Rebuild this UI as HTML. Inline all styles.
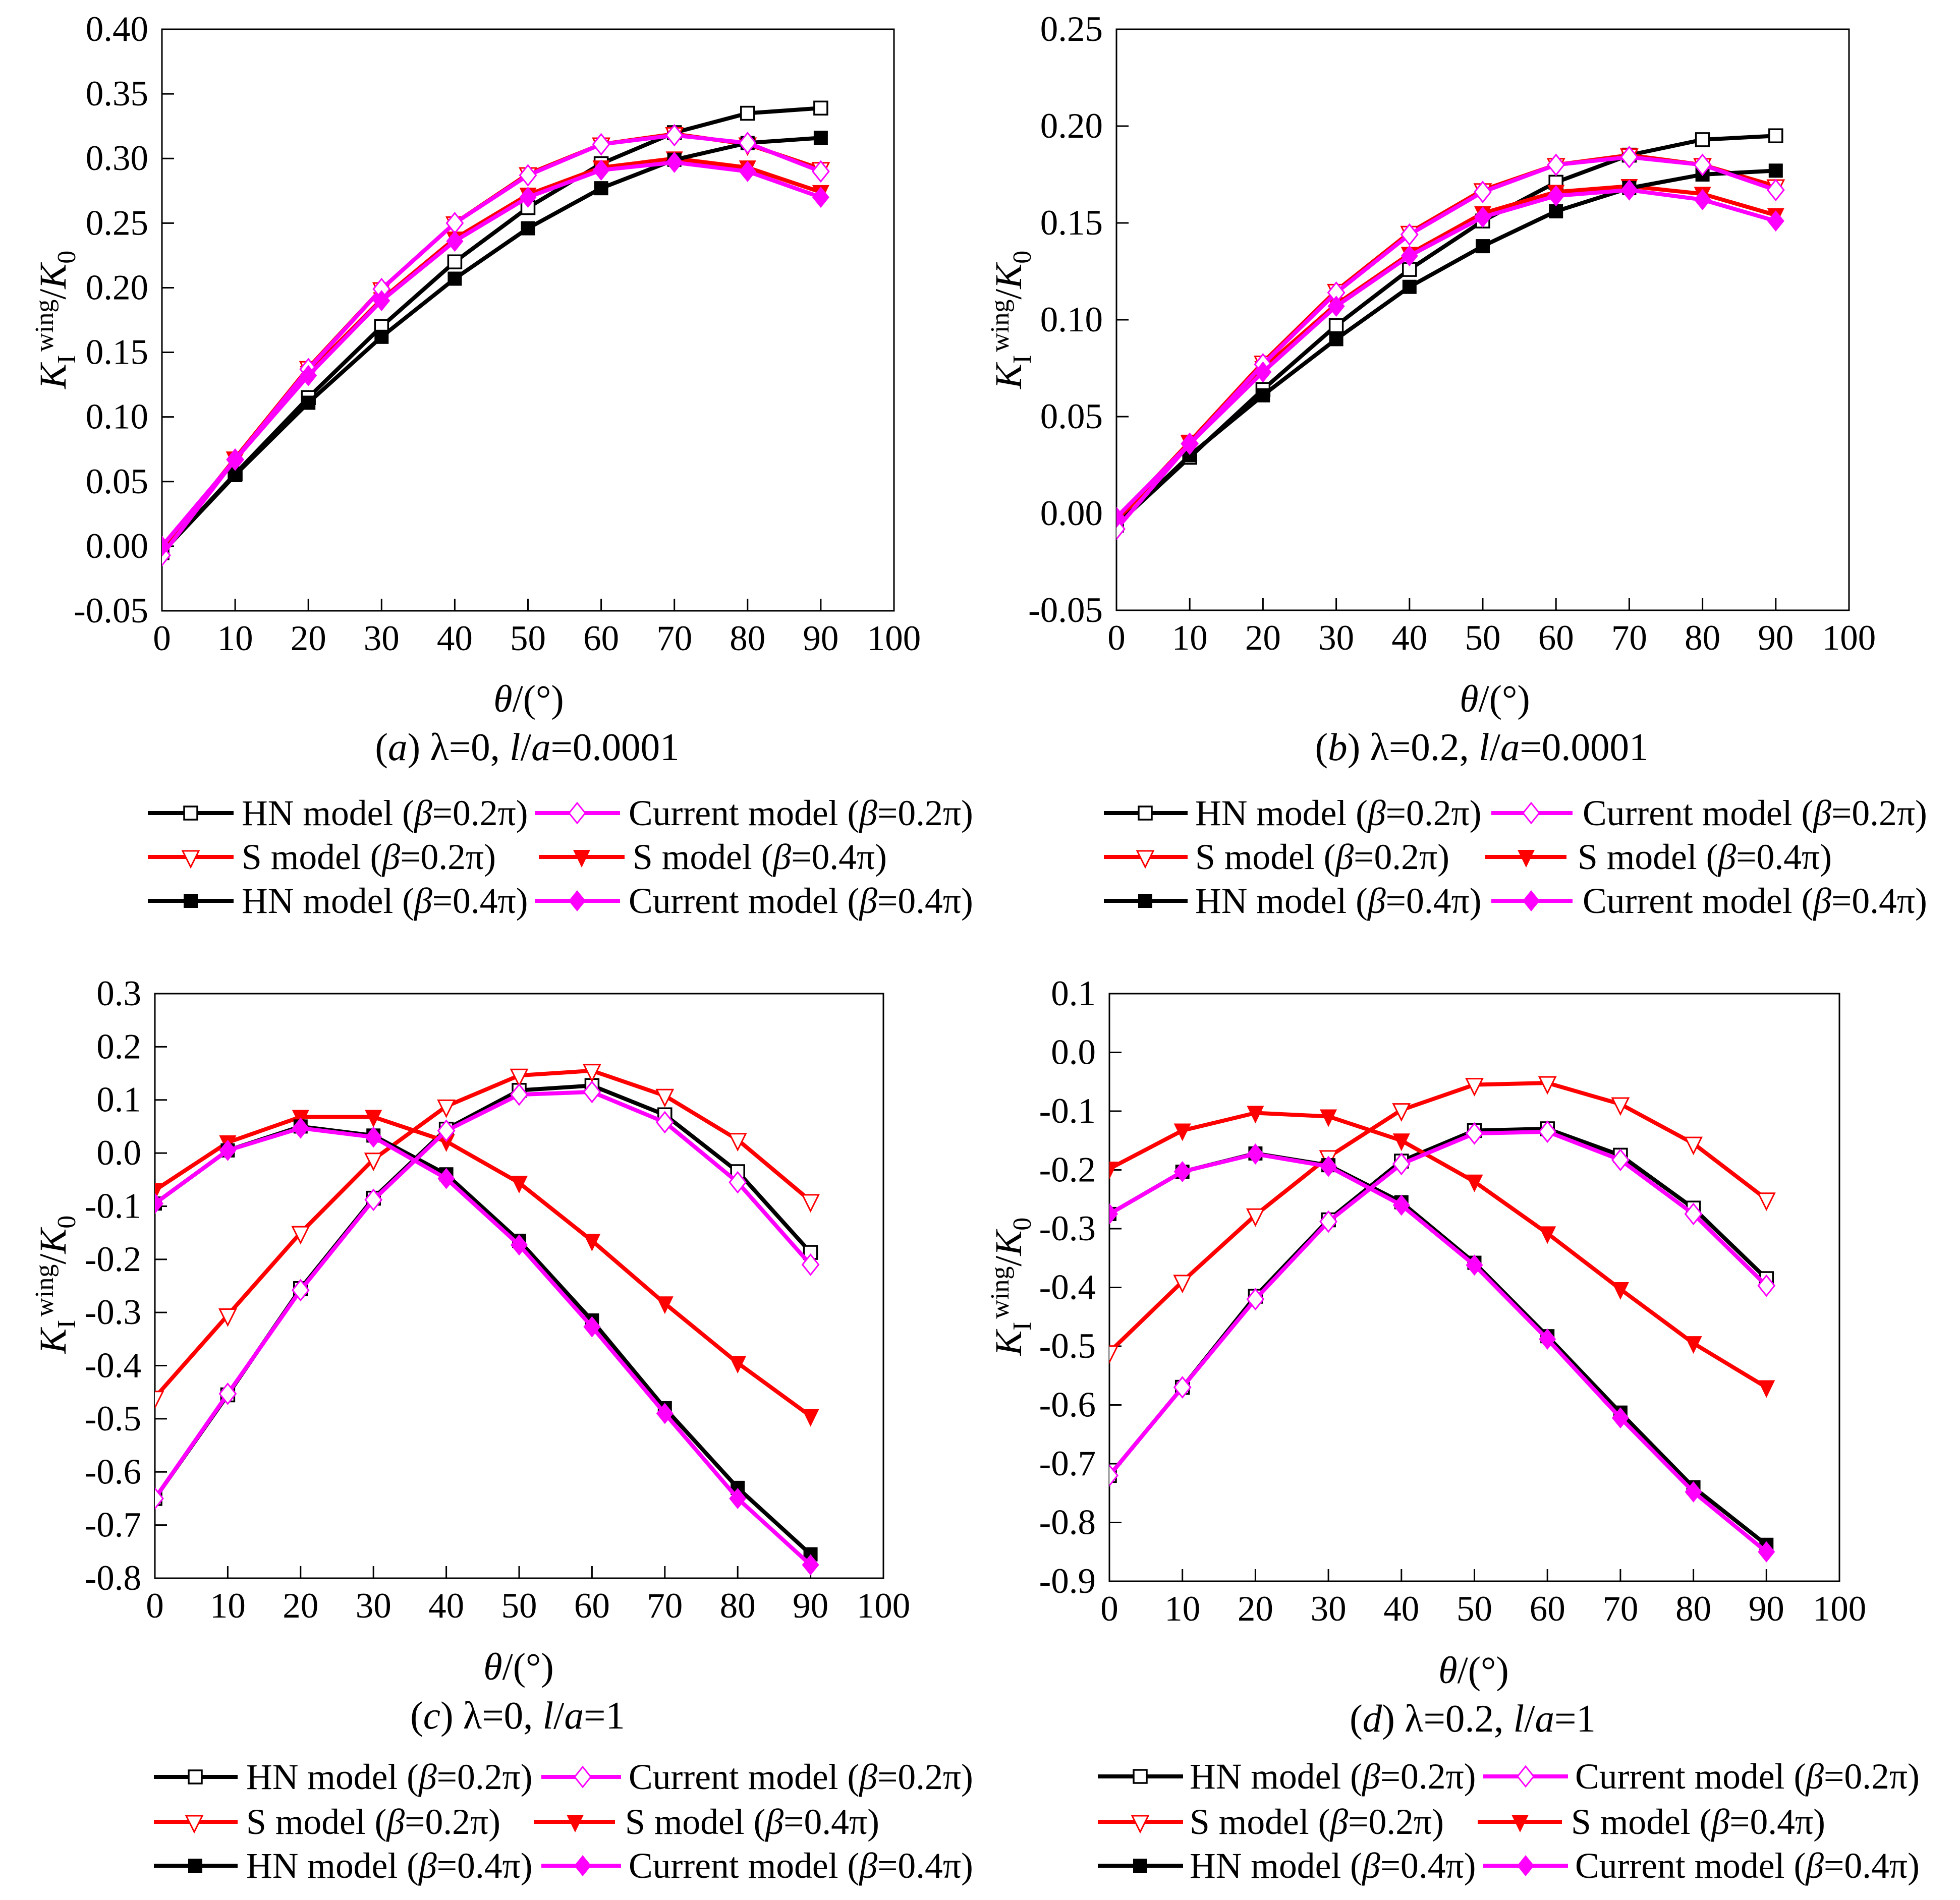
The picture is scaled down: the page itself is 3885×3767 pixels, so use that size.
<!DOCTYPE html>
<html lang="en">
<head>
<meta charset="utf-8">
<title>Wing crack stress intensity factor charts</title>
<style>
html,body{margin:0;padding:0;background:#fff;}
body{width:3885px;height:3767px;overflow:hidden;}
svg{display:block;}
text{font-family:"Liberation Serif","DejaVu Serif",serif;font-size:71px;fill:#000;}
.i{font-style:italic;}
.sub{font-size:52px;}
.yt{font-size:75px;}
.leg{font-size:71.6px;}
.cap{font-size:77px;}
.xt{font-size:76px;}
</style>
</head>
<body>
<svg id="figure" xmlns="http://www.w3.org/2000/svg" width="3885" height="3767" viewBox="0 0 3885 3767">
<defs>
  <g id="m-square-open"><rect x="-13" y="-13" width="26" height="26" fill="#fff" stroke="#000" stroke-width="3.5"/></g>
  <g id="m-square-filled"><rect x="-14" y="-14" width="28" height="28" fill="#000"/></g>
  <g id="m-tri-open"><path d="M-16,-12 L16,-12 L0,20 Z" fill="#fff" stroke="#f00" stroke-width="3"/></g>
  <g id="m-tri-filled"><path d="M-17,-14 L17,-14 L0,21 Z" fill="#f00"/></g>
  <g id="m-dia-open"><path d="M0,-20 L16,0 L0,20 L-16,0 Z" fill="#fff" stroke="#f0f" stroke-width="3"/></g>
  <g id="m-dia-filled"><path d="M0,-21 L17,0 L0,21 L-17,0 Z" fill="#f0f"/></g>
  <clipPath id="clip-a"><rect x="321" y="58" width="1451" height="1153"/></clipPath>
  <clipPath id="clip-b"><rect x="2213" y="58" width="1452" height="1152"/></clipPath>
  <clipPath id="clip-c"><rect x="307" y="1970" width="1444" height="1159"/></clipPath>
  <clipPath id="clip-d"><rect x="2199" y="1970" width="1447" height="1165"/></clipPath>
</defs>

<!-- Panel a -->
<g id="panel-a">
  <text class="yt" transform="translate(130,771) rotate(-90)"><tspan class="i">K</tspan><tspan class="sub" dy="19">I</tspan><tspan class="sub" dy="-44" dx="6">wing</tspan><tspan dy="25">/</tspan><tspan class="i">K</tspan><tspan class="sub" dy="19">0</tspan></text>
  <text class="xt" x="1048" y="1411" text-anchor="middle"><tspan class="i">θ</tspan>/(°)</text>
  <text class="cap" x="1045" y="1507" text-anchor="middle">(<tspan class="i">a</tspan>) λ=0, <tspan class="i">l</tspan>/<tspan class="i">a</tspan>=0.0001</text>
  <g>
    <g><line x1="293" x2="463" y1="1612" y2="1612" stroke="#000" stroke-width="8"/><use href="#m-square-open" x="378" y="1612"/><text class="leg" x="479" y="1636">HN model (<tspan class="i">β</tspan>=0.2π)</text></g>
    <g><line x1="1060" x2="1229" y1="1612" y2="1612" stroke="#f0f" stroke-width="8"/><use href="#m-dia-open" x="1144" y="1612"/><text class="leg" x="1246" y="1636">Current model (<tspan class="i">β</tspan>=0.2π)</text></g>
    <g><line x1="293" x2="463" y1="1699" y2="1699" stroke="#f00" stroke-width="8"/><use href="#m-tri-open" x="378" y="1699"/><text class="leg" x="479" y="1723">S model (<tspan class="i">β</tspan>=0.2π)</text></g>
    <g><line x1="1068" x2="1238" y1="1699" y2="1699" stroke="#f00" stroke-width="8"/><use href="#m-tri-filled" x="1153" y="1699"/><text class="leg" x="1254" y="1723">S model (<tspan class="i">β</tspan>=0.4π)</text></g>
    <g><line x1="293" x2="463" y1="1786" y2="1786" stroke="#000" stroke-width="8"/><use href="#m-square-filled" x="378" y="1786"/><text class="leg" x="479" y="1810">HN model (<tspan class="i">β</tspan>=0.4π)</text></g>
    <g><line x1="1060" x2="1229" y1="1786" y2="1786" stroke="#f0f" stroke-width="8"/><use href="#m-dia-filled" x="1144" y="1786"/><text class="leg" x="1246" y="1810">Current model (<tspan class="i">β</tspan>=0.4π)</text></g>
  </g>
</g>

<!-- Panel b -->
<g id="panel-b">
  <text class="yt" transform="translate(2024,771) rotate(-90)"><tspan class="i">K</tspan><tspan class="sub" dy="19">I</tspan><tspan class="sub" dy="-44" dx="6">wing</tspan><tspan dy="25">/</tspan><tspan class="i">K</tspan><tspan class="sub" dy="19">0</tspan></text>
  <text class="xt" x="2963" y="1411" text-anchor="middle"><tspan class="i">θ</tspan>/(°)</text>
  <text class="cap" x="2937" y="1507" text-anchor="middle">(<tspan class="i">b</tspan>) λ=0.2, <tspan class="i">l</tspan>/<tspan class="i">a</tspan>=0.0001</text>
  <g>
    <g><line x1="2188" x2="2354" y1="1612" y2="1612" stroke="#000" stroke-width="8"/><use href="#m-square-open" x="2270" y="1612"/><text class="leg" x="2369" y="1636">HN model (<tspan class="i">β</tspan>=0.2π)</text></g>
    <g><line x1="2956" x2="3117" y1="1612" y2="1612" stroke="#f0f" stroke-width="8"/><use href="#m-dia-open" x="3035" y="1612"/><text class="leg" x="3137" y="1636">Current model (<tspan class="i">β</tspan>=0.2π)</text></g>
    <g><line x1="2188" x2="2354" y1="1699" y2="1699" stroke="#f00" stroke-width="8"/><use href="#m-tri-open" x="2270" y="1699"/><text class="leg" x="2369" y="1723">S model (<tspan class="i">β</tspan>=0.2π)</text></g>
    <g><line x1="2944" x2="3105" y1="1699" y2="1699" stroke="#f00" stroke-width="8"/><use href="#m-tri-filled" x="3025" y="1699"/><text class="leg" x="3127" y="1723">S model (<tspan class="i">β</tspan>=0.4π)</text></g>
    <g><line x1="2188" x2="2354" y1="1786" y2="1786" stroke="#000" stroke-width="8"/><use href="#m-square-filled" x="2270" y="1786"/><text class="leg" x="2369" y="1810">HN model (<tspan class="i">β</tspan>=0.4π)</text></g>
    <g><line x1="2956" x2="3117" y1="1786" y2="1786" stroke="#f0f" stroke-width="8"/><use href="#m-dia-filled" x="3035" y="1786"/><text class="leg" x="3137" y="1810">Current model (<tspan class="i">β</tspan>=0.4π)</text></g>
  </g>
</g>

<!-- Panel c -->
<g id="panel-c">
  <text class="yt" transform="translate(130,2684) rotate(-90)"><tspan class="i">K</tspan><tspan class="sub" dy="19">I</tspan><tspan class="sub" dy="-44" dx="6">wing</tspan><tspan dy="25">/</tspan><tspan class="i">K</tspan><tspan class="sub" dy="19">0</tspan></text>
  <text class="xt" x="1028" y="3330" text-anchor="middle"><tspan class="i">θ</tspan>/(°)</text>
  <text class="cap" x="1026" y="3427" text-anchor="middle">(<tspan class="i">c</tspan>) λ=0, <tspan class="i">l</tspan>/<tspan class="i">a</tspan>=1</text>
  <g>
    <g><line x1="305" x2="471" y1="3523" y2="3523" stroke="#000" stroke-width="8"/><use href="#m-square-open" x="387" y="3523"/><text class="leg" x="488" y="3547">HN model (<tspan class="i">β</tspan>=0.2π)</text></g>
    <g><line x1="1073" x2="1231" y1="3523" y2="3523" stroke="#f0f" stroke-width="8"/><use href="#m-dia-open" x="1155" y="3523"/><text class="leg" x="1246" y="3547">Current model (<tspan class="i">β</tspan>=0.2π)</text></g>
    <g><line x1="305" x2="471" y1="3612" y2="3612" stroke="#f00" stroke-width="8"/><use href="#m-tri-open" x="385" y="3612"/><text class="leg" x="488" y="3636">S model (<tspan class="i">β</tspan>=0.2π)</text></g>
    <g><line x1="1058" x2="1219" y1="3612" y2="3612" stroke="#f00" stroke-width="8"/><use href="#m-tri-filled" x="1140" y="3612"/><text class="leg" x="1239" y="3636">S model (<tspan class="i">β</tspan>=0.4π)</text></g>
    <g><line x1="305" x2="471" y1="3699" y2="3699" stroke="#000" stroke-width="8"/><use href="#m-square-filled" x="387" y="3699"/><text class="leg" x="488" y="3723">HN model (<tspan class="i">β</tspan>=0.4π)</text></g>
    <g><line x1="1073" x2="1231" y1="3699" y2="3699" stroke="#f0f" stroke-width="8"/><use href="#m-dia-filled" x="1155" y="3699"/><text class="leg" x="1246" y="3723">Current model (<tspan class="i">β</tspan>=0.4π)</text></g>
  </g>
</g>

<!-- Panel d -->
<g id="panel-d">
  <text class="yt" transform="translate(2024,2688) rotate(-90)"><tspan class="i">K</tspan><tspan class="sub" dy="19">I</tspan><tspan class="sub" dy="-44" dx="6">wing</tspan><tspan dy="25">/</tspan><tspan class="i">K</tspan><tspan class="sub" dy="19">0</tspan></text>
  <text class="xt" x="2921" y="3337" text-anchor="middle"><tspan class="i">θ</tspan>/(°)</text>
  <text class="cap" x="2919" y="3433" text-anchor="middle">(<tspan class="i">d</tspan>) λ=0.2, <tspan class="i">l</tspan>/<tspan class="i">a</tspan>=1</text>
  <g>
    <g><line x1="2176" x2="2345" y1="3522" y2="3522" stroke="#000" stroke-width="8"/><use href="#m-square-open" x="2260" y="3522"/><text class="leg" x="2358" y="3546">HN model (<tspan class="i">β</tspan>=0.2π)</text></g>
    <g><line x1="2940" x2="3108" y1="3522" y2="3522" stroke="#f0f" stroke-width="8"/><use href="#m-dia-open" x="3024" y="3522"/><text class="leg" x="3122" y="3546">Current model (<tspan class="i">β</tspan>=0.2π)</text></g>
    <g><line x1="2176" x2="2345" y1="3612" y2="3612" stroke="#f00" stroke-width="8"/><use href="#m-tri-open" x="2260" y="3612"/><text class="leg" x="2358" y="3636">S model (<tspan class="i">β</tspan>=0.2π)</text></g>
    <g><line x1="2929" x2="3096" y1="3612" y2="3612" stroke="#f00" stroke-width="8"/><use href="#m-tri-filled" x="3013" y="3612"/><text class="leg" x="3114" y="3636">S model (<tspan class="i">β</tspan>=0.4π)</text></g>
    <g><line x1="2176" x2="2345" y1="3699" y2="3699" stroke="#000" stroke-width="8"/><use href="#m-square-filled" x="2260" y="3699"/><text class="leg" x="2358" y="3723">HN model (<tspan class="i">β</tspan>=0.4π)</text></g>
    <g><line x1="2940" x2="3108" y1="3699" y2="3699" stroke="#f0f" stroke-width="8"/><use href="#m-dia-filled" x="3024" y="3699"/><text class="leg" x="3122" y="3723">Current model (<tspan class="i">β</tspan>=0.4π)</text></g>
  </g>
</g>
</svg>

<script>
// Shared x categories and tick labels
const thetaValues = [0, 10, 20, 30, 40, 50, 60, 70, 80, 90];
const xTickValues = [0, 10, 20, 30, 40, 50, 60, 70, 80, 90, 100];
const xTickLabels = ["0", "10", "20", "30", "40", "50", "60", "70", "80", "90", "100"];

// Panel a: lambda=0, l/a=0.0001
const aTickValues = [-0.05, 0, 0.05, 0.10, 0.15, 0.20, 0.25, 0.30, 0.35, 0.40];
const aTickLabels = ["-0.05", "0.00", "0.05", "0.10", "0.15", "0.20", "0.25", "0.30", "0.35", "0.40"];
const aHN02 = [-0.005, 0.056, 0.115, 0.170, 0.220, 0.262, 0.296, 0.320, 0.335, 0.339];
const aS02 = [-0.003, 0.068, 0.138, 0.199, 0.250, 0.288, 0.311, 0.319, 0.311, 0.292];
const aS04 = [-0.002, 0.067, 0.134, 0.191, 0.238, 0.272, 0.293, 0.300, 0.293, 0.274];
const aHN04 = [-0.005, 0.055, 0.111, 0.162, 0.207, 0.246, 0.277, 0.299, 0.312, 0.316];
const aC02 = [-0.007, 0.067, 0.137, 0.199, 0.250, 0.287, 0.311, 0.318, 0.312, 0.290];
const aC04 = [0.000, 0.067, 0.132, 0.190, 0.236, 0.270, 0.291, 0.297, 0.290, 0.270];

// Panel b: lambda=0.2, l/a=0.0001
const bTickValues = [-0.05, 0, 0.05, 0.10, 0.15, 0.20, 0.25];
const bTickLabels = ["-0.05", "0.00", "0.05", "0.10", "0.15", "0.20", "0.25"];
const bHN02 = [-0.006, 0.029, 0.064, 0.097, 0.126, 0.151, 0.171, 0.185, 0.193, 0.195];
const bS02 = [-0.004, 0.037, 0.078, 0.115, 0.145, 0.167, 0.180, 0.185, 0.180, 0.169];
const bS04 = [-0.003, 0.037, 0.075, 0.108, 0.134, 0.155, 0.166, 0.169, 0.165, 0.154];
const bHN04 = [-0.006, 0.030, 0.061, 0.090, 0.117, 0.138, 0.156, 0.168, 0.175, 0.177];
const bC02 = [-0.008, 0.036, 0.077, 0.114, 0.144, 0.166, 0.180, 0.184, 0.180, 0.167];
const bC04 = [-0.002, 0.036, 0.073, 0.107, 0.133, 0.153, 0.164, 0.167, 0.162, 0.151];

// Panel c: lambda=0, l/a=1
const cTickValues = [-0.8, -0.7, -0.6, -0.5, -0.4, -0.3, -0.2, -0.1, 0, 0.1, 0.2, 0.3];
const cTickLabels = ["-0.8", "-0.7", "-0.6", "-0.5", "-0.4", "-0.3", "-0.2", "-0.1", "0.0", "0.1", "0.2", "0.3"];
const cHN02 = [-0.650, -0.455, -0.255, -0.085, 0.045, 0.118, 0.127, 0.072, -0.035, -0.187];
const cS02 = [-0.460, -0.305, -0.150, -0.012, 0.088, 0.146, 0.155, 0.108, 0.025, -0.090];
const cS04 = [-0.070, 0.020, 0.068, 0.068, 0.022, -0.056, -0.165, -0.283, -0.395, -0.495];
const cHN04 = [-0.095, 0.005, 0.050, 0.033, -0.040, -0.165, -0.315, -0.480, -0.630, -0.755];
const cC02 = [-0.650, -0.453, -0.258, -0.088, 0.042, 0.110, 0.115, 0.058, -0.055, -0.210];
const cC04 = [-0.095, 0.005, 0.047, 0.030, -0.048, -0.173, -0.327, -0.490, -0.650, -0.775];

// Panel d: lambda=0.2, l/a=1
const dTickValues = [-0.9, -0.8, -0.7, -0.6, -0.5, -0.4, -0.3, -0.2, -0.1, 0, 0.1];
const dTickLabels = ["-0.9", "-0.8", "-0.7", "-0.6", "-0.5", "-0.4", "-0.3", "-0.2", "-0.1", "0.0", "0.1"];
const dHN02 = [-0.720, -0.570, -0.415, -0.285, -0.185, -0.133, -0.130, -0.175, -0.265, -0.385];
const dS02 = [-0.510, -0.390, -0.277, -0.178, -0.098, -0.055, -0.052, -0.088, -0.155, -0.250];
const dS04 = [-0.198, -0.133, -0.103, -0.109, -0.150, -0.220, -0.308, -0.403, -0.495, -0.570];
const dHN04 = [-0.275, -0.203, -0.172, -0.192, -0.255, -0.358, -0.483, -0.613, -0.740, -0.838];
const dC02 = [-0.720, -0.570, -0.420, -0.288, -0.190, -0.138, -0.135, -0.183, -0.275, -0.397];
const dC04 = [-0.275, -0.203, -0.173, -0.194, -0.260, -0.362, -0.488, -0.622, -0.748, -0.850];

const NS = "http://www.w3.org/2000/svg";
const MAX_X = 100;

function panelSeries(hn02, s02, s04, hn04, c02, c04) {
  return [
    { key: "hn-02", values: hn02, color: "#000", marker: "#m-square-open" },
    { key: "s-02", values: s02, color: "#f00", marker: "#m-tri-open" },
    { key: "s-04", values: s04, color: "#f00", marker: "#m-tri-filled" },
    { key: "hn-04", values: hn04, color: "#000", marker: "#m-square-filled" },
    { key: "current-02", values: c02, color: "#f0f", marker: "#m-dia-open" },
    { key: "current-04", values: c04, color: "#f0f", marker: "#m-dia-filled" }
  ];
}

const panels = [
  { id: "a", box: { l: 321, r: 1772, t: 58, b: 1211 }, yMin: -0.05, yMax: 0.40, ticks: aTickValues, labels: aTickLabels, series: panelSeries(aHN02, aS02, aS04, aHN04, aC02, aC04) },
  { id: "b", box: { l: 2213, r: 3665, t: 58, b: 1210 }, yMin: -0.05, yMax: 0.25, ticks: bTickValues, labels: bTickLabels, series: panelSeries(bHN02, bS02, bS04, bHN04, bC02, bC04) },
  { id: "c", box: { l: 307, r: 1751, t: 1970, b: 3129 }, yMin: -0.8, yMax: 0.3, ticks: cTickValues, labels: cTickLabels, series: panelSeries(cHN02, cS02, cS04, cHN04, cC02, cC04) },
  { id: "d", box: { l: 2199, r: 3646, t: 1970, b: 3135 }, yMin: -0.9, yMax: 0.1, ticks: dTickValues, labels: dTickLabels, series: panelSeries(dHN02, dS02, dS04, dHN04, dC02, dC04) }
];

function svgEl(tag, attrs) {
  const el = document.createElementNS(NS, tag);
  for (const k in attrs) el.setAttribute(k, attrs[k]);
  return el;
}

function drawPanel(p) {
  const root = document.getElementById("panel-" + p.id);
  const xScale = v => p.box.l + (v / MAX_X) * (p.box.r - p.box.l);
  const yScale = v => p.box.b - ((v - p.yMin) / (p.yMax - p.yMin)) * (p.box.b - p.box.t);

  // Frame
  const frame = svgEl("rect", { x: p.box.l, y: p.box.t, width: p.box.r - p.box.l, height: p.box.b - p.box.t, fill: "none", stroke: "#000", "stroke-width": 3 });
  
  
  root.appendChild(frame);

  // X axis ticks and labels
  xTickValues.forEach((v, i) => {
    const tick = svgEl("line", { x1: xScale(v), x2: xScale(v), y1: p.box.b, y2: p.box.b - 24, stroke: "#000", "stroke-width": 3 });
    
    
    root.appendChild(tick);
    const label = svgEl("text", { x: xScale(v), y: p.box.b + 78, "text-anchor": "middle" });
    
    
    label.textContent = xTickLabels[i];
    root.appendChild(label);
  });

  // Y axis ticks and labels
  p.ticks.forEach((v, i) => {
    const tick = svgEl("line", { x1: p.box.l, x2: p.box.l + 24, y1: yScale(v), y2: yScale(v), stroke: "#000", "stroke-width": 3 });
    
    
    root.appendChild(tick);
    const label = svgEl("text", { x: p.box.l - 27, y: yScale(v) + 23, "text-anchor": "end" });
    
    
    label.textContent = p.labels[i];
    root.appendChild(label);
  });

  // Series
  const plot = svgEl("g", { "clip-path": "url(#clip-" + p.id + ")" });
  
  
  root.appendChild(plot);

  p.series.forEach(s => {
    const pts = s.values.map((v, i) => xScale(thetaValues[i]) + "," + yScale(v)).join(" ");
    const line = svgEl("polyline", { points: pts, fill: "none", stroke: s.color, "stroke-width": 8, "stroke-linejoin": "round" });
    
    
    plot.appendChild(line);
    s.values.forEach((v, i) => {
      const m = svgEl("use", { href: s.marker, x: xScale(thetaValues[i]), y: yScale(v) });
      
      
      plot.appendChild(m);
    });
  });
}

panels.forEach(drawPanel);
</script>
</body>
</html>
